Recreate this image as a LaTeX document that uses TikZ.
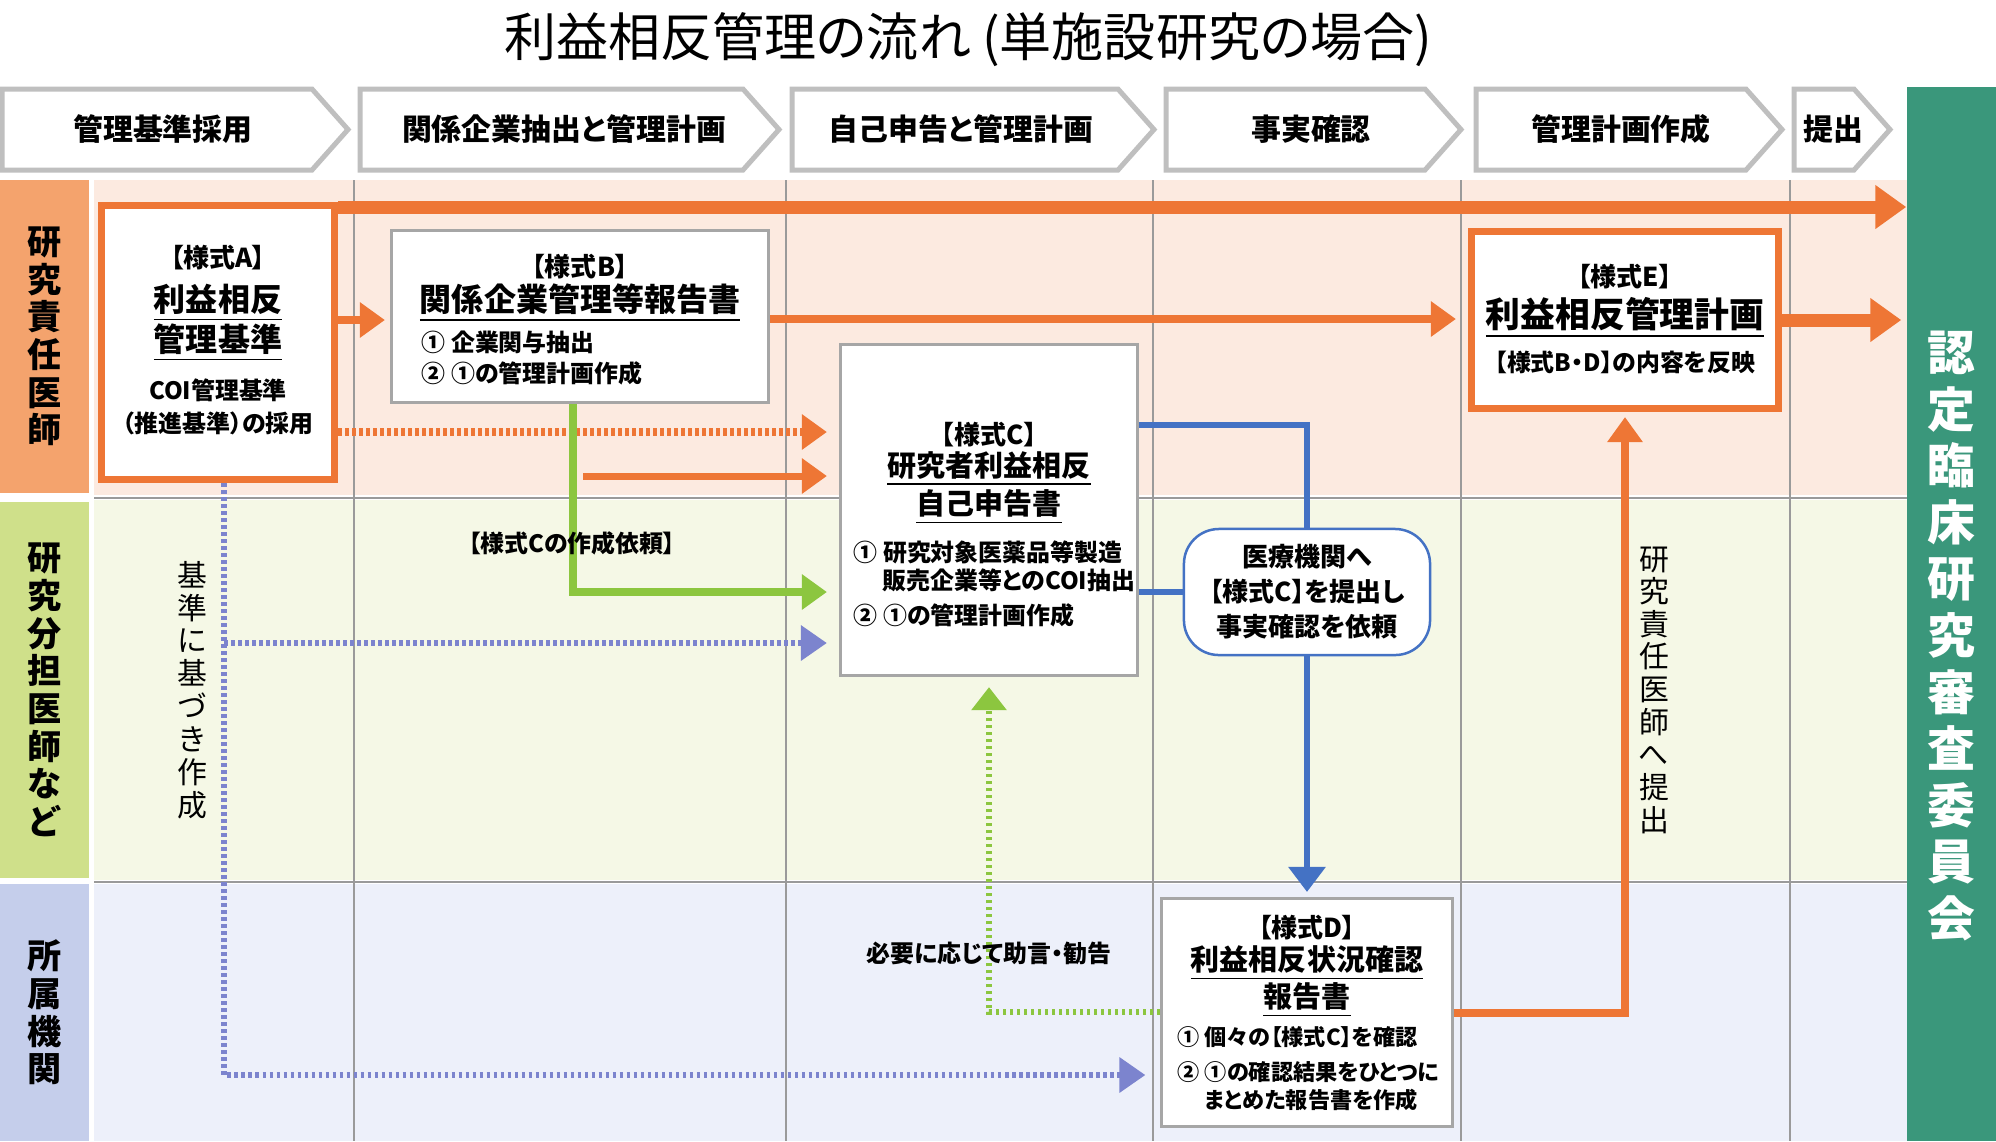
\documentclass[tikz,border=0pt]{standalone}
\usepackage{fontspec}
\setmainfont{Noto Sans CJK JP}[RawFeature=+palt]
\usetikzlibrary{arrows.meta}

\definecolor{laranja}{HTML}{EE7635}
\definecolor{faixavermelha}{HTML}{F4A36D}
\definecolor{fundovermelho}{HTML}{FCEAE0}
\definecolor{faixaverde}{HTML}{CFE08A}
\definecolor{fundoverde}{HTML}{F5F8E6}
\definecolor{faixaazul}{HTML}{C5CEEB}
\definecolor{fundoazul}{HTML}{EDF0FA}
\definecolor{verde}{HTML}{8CC63F}
\definecolor{azul}{HTML}{4472C4}
\definecolor{roxo}{HTML}{7C84CE}
\definecolor{comiteverde}{HTML}{3A977B}
\definecolor{cinzaetapa}{HTML}{BFBFBF}
\definecolor{cinzagrade}{HTML}{9A9A9A}
\definecolor{cinzacaixa}{HTML}{A6A6A6}

\begin{document}
\begin{tikzpicture}[x=0.01cm,y=-0.01cm,
  every node/.style={inner sep=0pt},
  etapa/.style={draw=cinzaetapa,line width=0.05cm,fill=white},
  etapatxt/.style={font=\bfseries\fontsize{8.5pt}{10pt}\selectfont},
  faixa/.style={minimum width=0.89cm,align=center,font=\bfseries\fontsize{9.7pt}{10.7pt}\selectfont},
  grade/.style={draw=cinzagrade,line width=0.02cm},
  comite/.style={fill=comiteverde,minimum width=0.89cm,minimum height=10.54cm},
  comitetxt/.style={text=white,align=center,font=\bfseries\fontsize{13.6pt}{16.1pt}\selectfont},
  caixa/.style={draw=cinzacaixa,line width=0.03cm,fill=white},
  caixaL/.style={draw=laranja,line width=0.07cm,fill=white},
  txs/.style={font=\bfseries\fontsize{7.4pt}{8pt}\selectfont},
  txg/.style={align=center,font=\bfseries\fontsize{9.1pt}{11.38pt}\selectfont},
  txc/.style={align=center,font=\bfseries\fontsize{8.25pt}{9.4pt}\selectfont},
  txe/.style={font=\bfseries\fontsize{9.9pt}{12pt}\selectfont},
  txm/.style={font=\bfseries\fontsize{6.8pt}{8.54pt}\selectfont},
  txd/.style={font=\bfseries\fontsize{6.3pt}{7.97pt}\selectfont},
  tate/.style={align=center,font=\fontsize{8.5pt}{9.35pt}\selectfont},
  setagrossa/.style={draw=laranja,line width=0.13cm,-{Triangle[width=0.42cm,length=0.31cm]}},
  seta/.style={draw=laranja,line width=0.08cm,-{Triangle[width=0.34cm,length=0.25cm]}},
  setapont/.style={seta,dash pattern=on 0.035cm off 0.035cm},
  setaverde/.style={draw=verde,line width=0.08cm,-{Triangle[width=0.34cm,length=0.25cm]}},
  setaverdep/.style={setaverde,line width=0.065cm,dash pattern=on 0.035cm off 0.035cm},
  setaazul/.style={draw=azul,line width=0.06cm},
  setaroxa/.style={draw=roxo,line width=0.065cm,dash pattern=on 0.035cm off 0.035cm,-{Triangle[width=0.34cm,length=0.26cm]}}]
\useasboundingbox (0,0) rectangle (1996,1141);
% Titulo
\node[font=\fontsize{14.8pt}{16pt}\selectfont] (titulo) at (968,40) {利益相反管理の流れ (単施設研究の場合)};
% Etapas
\foreach \i/\a/\b/\c/\t in {1/2/348/163/管理基準採用,2/360/779/564/関係企業抽出と管理計画,3/792/1154/961/自己申告と管理計画,4/1166/1461/1311/事実確認,5/1476/1782/1621/管理計画作成,6/1794/1890/1833/提出} {
  \draw[etapa] (\a,89) -- ({\b-36},89) -- (\b,129.5) -- ({\b-36},170) -- (\a,170) -- cycle;
  \node[etapatxt] (et\i) at (\c,129) {\t};
}
% Faixas
\fill[fundovermelho] (94,180) rectangle (1907,495);
\fill[fundoverde] (94,500) rectangle (1907,880);
\fill[fundoazul] (94,884) rectangle (1907,1141);
\node[faixa,fill=faixavermelha,minimum height=3.13cm] (f1) at (44.5,336.5) {研\\究\\責\\任\\医\\師};
\node[faixa,fill=faixaverde,minimum height=3.76cm] (f2) at (44.5,690) {研\\究\\分\\担\\医\\師\\な\\ど};
\node[faixa,fill=faixaazul,minimum height=2.57cm] (f3) at (44.5,1012.5) {所\\属\\機\\関};
\foreach \x in {354,786,1153,1461,1790}
  \draw[grade] (\x,180) -- (\x,1141);
\draw[grade] (94,497.5) -- (1907,497.5);
\draw[grade] (94,881.5) -- (1907,881.5);
% Comite
\node[comite] (iinkai) at (1951.5,614) {};
\node[comitetxt] (iinkaitxt) at (1951.5,636) {認\\定\\臨\\床\\研\\究\\審\\査\\委\\員\\会};
% Caixas
\node[caixaL,minimum width=2.33cm,minimum height=2.74cm] (fA) at (218,342.5) {};
\node[txs] (fA1) at (218,258) {【様式A】};
\node[txg] (fA2) at (218,323) {\underline{利益相反}\\\underline{管理基準}};
\node[txm,align=center,font=\bfseries\fontsize{6.8pt}{9.39pt}\selectfont] (fA3) at (218,406.5) {COI管理基準\\（推進基準）の採用};
\node[caixa,minimum width=3.77cm,minimum height=1.72cm] (fB) at (580,316.5) {};
\node[txs] (fB1) at (580,267) {【様式B】};
\node[txg] (fB2) at (580,303) {\underline{関係企業管理等報告書}};
\node[txm,anchor=west,align=left] (fB3) at (421,358) {① 企業関与抽出\\② ①の管理計画作成};
\node[caixa,minimum width=2.97cm,minimum height=3.31cm] (fC) at (989,510) {};
\node[txs] (fC1) at (989,435) {【様式C】};
\node[txc] (fC2) at (989,488) {\underline{研究者利益相反}\\\underline{自己申告書}};
\node[txm,anchor=west,align=left,font=\bfseries\fontsize{6.8pt}{7.97pt}\selectfont] (fC3) at (853,566) {① 研究対象医薬品等製造\\\hspace*{1.2em}販売企業等とのCOI抽出};
\node[txm,anchor=west] (fC4) at (853,615) {② ①の管理計画作成};
\node[caixa,minimum width=2.9cm,minimum height=2.28cm] (fD) at (1307,1012.5) {};
\node[txs] (fD1) at (1307,928) {【様式D】};
\node[txc,font=\bfseries\fontsize{8.25pt}{10.5pt}\selectfont] (fD2) at (1307,981.5) {\underline{利益相反状況確認}\\\underline{報告書}};
\node[txd,anchor=west] (fD3) at (1177,1037) {① 個々の【様式C】を確認};
\node[txd,anchor=west,align=left] (fD4) at (1177,1086) {② ①の確認結果をひとつに\\\hspace*{1.2em}まとめた報告書を作成};
\node[caixaL,minimum width=3.07cm,minimum height=1.77cm] (fE) at (1625,320) {};
\node[txs] (fE1) at (1625,277) {【様式E】};
\node[txe] (fE2) at (1625,318) {\underline{利益相反管理計画}};
\node[txm] (fE3) at (1625,362) {【様式B・D】の内容を反映};
\node[draw=azul,line width=0.025cm,fill=white,rounded corners=0.35cm,minimum width=2.46cm,minimum height=1.26cm,align=center,font=\bfseries\fontsize{7.4pt}{9.96pt}\selectfont] (iryo) at (1307,592) {医療機関へ\\【様式C】を提出し\\事実確認を依頼};
% Setas
\coordinate (ini) at (583,476);
\coordinate (pv) at (224,643);
\draw[setagrossa] (fA.north east |- 0,207) -- (iinkai.west |- 0,207);
\draw[setagrossa,shorten >=0.05cm] (fE.east) -- (iinkai.west |- fE.east);
\draw[seta,shorten >=0.05cm] (fA.east |- 0,320) -- (fB.west |- 0,320);
\draw[seta,shorten >=0.12cm] (fB.east |- 0,319) -- (fE.west |- 0,319);
\draw[setapont,shorten >=0.12cm] (fA.east |- 0,432) -- (fC.west |- 0,432);
\draw[seta,line width=0.07cm,shorten >=0.12cm] (ini) -- (fC.west |- ini);
\draw[setaverde,shorten >=0.12cm] (fB.south -| 573,0) |- (fC.west |- 0,592);
\draw[setaroxa,shorten >=0.15cm] (fA.south -| pv) |- (fD.west |- 0,1075);
\draw[setaroxa,shorten >=0.12cm] (pv) -- (fC.west |- pv);
\draw[setaazul] (fC.east |- 0,425) -| (iryo.north);
\draw[setaazul] (fC.east |- iryo.west) -- (iryo.west);
\draw[setaazul,-{Triangle[width=0.36cm,length=0.25cm]},shorten >=0.05cm] (iryo.south) -- (fD.north);
\draw[setaverdep,-{Triangle[width=0.34cm,length=0.23cm]},shorten >=0.1cm] (fD.west |- 0,1012) -| (fC.south);
\draw[seta,shorten >=0.05cm] (fD.east |- 0,1013) -| (fE.south);
% Rotulos
\node[txm] (lbC) at (572,543) {【様式Cの作成依頼】};
\node[txm] (lbD) at (989,953) {必要に応じて助言・勧告};
\node[tate] (lbA) at (192,690) {基\\準\\に\\基\\づ\\き\\作\\成};
\node[tate,font=\fontsize{8.5pt}{9.28pt}\selectfont] (lbE) at (1654,690) {研\\究\\責\\任\\医\\師\\へ\\提\\出};
\end{tikzpicture}
\end{document}
